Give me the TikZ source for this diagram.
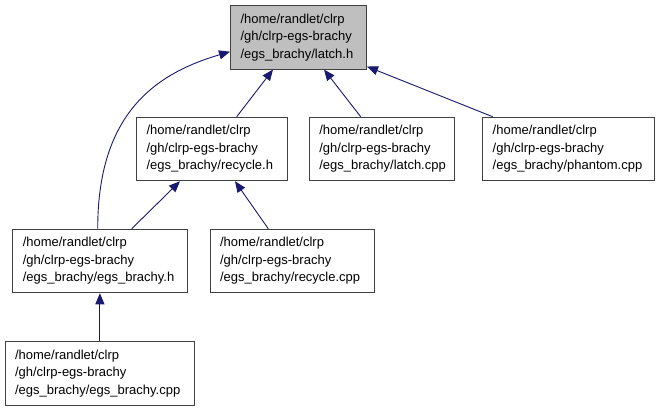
\documentclass[tikz,border=0pt]{standalone}
\usepackage{fontspec}
\setmainfont{Liberation Sans}
\usetikzlibrary{arrows.meta, calc}
\definecolor{incblue}{HTML}{191970}
\definecolor{boxgray}{HTML}{404040}
\definecolor{headfill}{HTML}{BFBFBF}

\begin{document}
\begin{tikzpicture}[
    x=1pt, y=-1pt,
    filebox/.style={draw=boxgray, line width=1pt, align=left, text width=#1,
        inner xsep=10pt, minimum height=63.5pt, font=\fontsize{13}{17.5}\selectfont},
    incl/.style={draw=incblue, line width=0.9pt, -{Triangle[length=11pt, width=9pt]}},
]
    \useasboundingbox (0,0) rectangle (660,411);

    % the header and the files that include it
    \node[filebox=116pt, fill=headfill] (latchh) at (298.5,37.3)
        {/home/randlet/clrp\\/gh/clrp-egs-brachy\\/egs\_brachy/latch.h};
    \node[filebox=130.6pt] (recycleh) at (211.9,149)
        {/home/randlet/clrp\\/gh/clrp-egs-brachy\\/egs\_brachy/recycle.h};
    \node[filebox=124.7pt] (latchcpp) at (381.7,149)
        {/home/randlet/clrp\\/gh/clrp-egs-brachy\\/egs\_brachy/latch.cpp};
    \node[filebox=151.6pt] (phantomcpp) at (568.5,149)
        {/home/randlet/clrp\\/gh/clrp-egs-brachy\\/egs\_brachy/phantom.cpp};
    \node[filebox=154.3pt] (egsh) at (99.9,261)
        {/home/randlet/clrp\\/gh/clrp-egs-brachy\\/egs\_brachy/egs\_brachy.h};
    \node[filebox=144pt] (recyclecpp) at (292,261)
        {/home/randlet/clrp\\/gh/clrp-egs-brachy\\/egs\_brachy/recycle.cpp};
    \node[filebox=169.7pt] (egscpp) at (99.9,373.3)
        {/home/randlet/clrp\\/gh/clrp-egs-brachy\\/egs\_brachy/egs\_brachy.cpp};

    % include edges
    \draw[incl] ($(recycleh.north)+(24.8,0)$) -- ($(latchh.south)+(-25.5,0)$);
    \draw[incl] ($(latchcpp.north)+(-21,0)$) -- ($(latchh.south)+(25.5,0)$);
    \draw[incl] ($(phantomcpp.north)+(-75.8,0)$) -- ($(latchh.south east)+(0,-3)$);
    \draw[incl] ($(egsh.north)+(-2.2,0)$) .. controls +(0,-115) and +(-75,22) .. ($(latchh.west)+(0,14.4)$);
    \draw[incl] ($(egsh.north)+(31.8,0)$) -- ($(recycleh.south)+(-31.9,0)$);
    \draw[incl] ($(recyclecpp.north)+(-23.7,0)$) -- ($(recycleh.south)+(23.1,0)$);
    \draw[incl] (egscpp.north) -- (egsh.south);
\end{tikzpicture}
\end{document}
